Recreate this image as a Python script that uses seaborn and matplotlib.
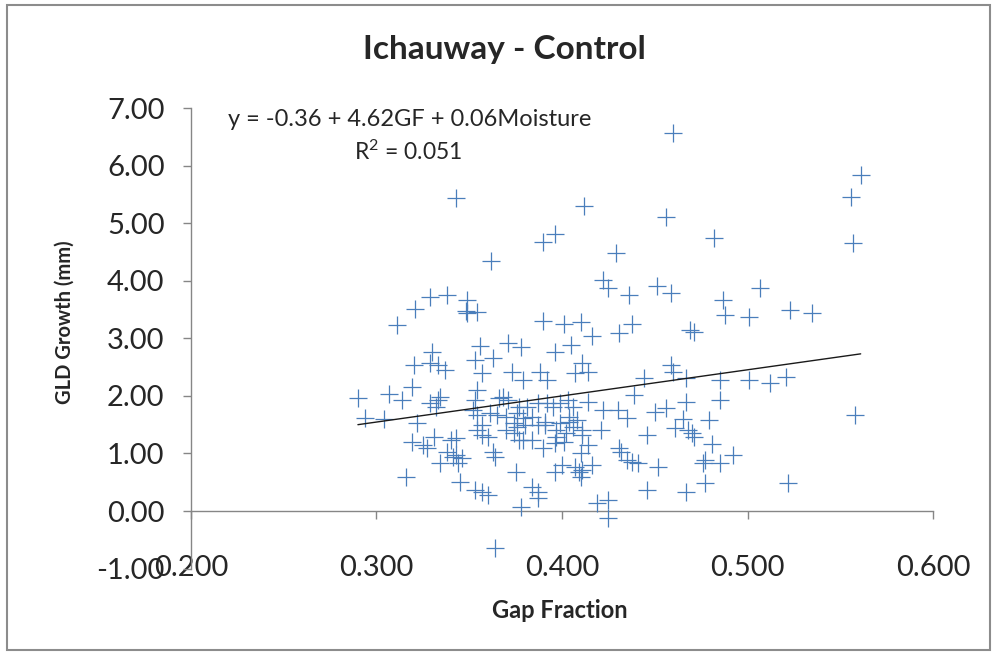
import matplotlib
matplotlib.use("Agg")
import matplotlib.pyplot as plt
from matplotlib.patches import Rectangle
from matplotlib.ticker import FormatStrFormatter
import seaborn as sns
import pandas as pd

gap_fraction = [
    0.343, 0.362, 0.329, 0.338, 0.321, 0.311, 0.349, 0.348, 0.354, 0.349,
    0.460, 0.561, 0.556, 0.557, 0.412, 0.456, 0.482, 0.390, 0.396, 0.429,
    0.422, 0.425, 0.436, 0.451, 0.459, 0.487, 0.488, 0.507, 0.501, 0.523,
    0.535, 0.390, 0.401, 0.410, 0.438, 0.469, 0.471, 0.416, 0.431,
    0.356, 0.371, 0.378, 0.330, 0.353, 0.363, 0.320, 0.329, 0.333, 0.337,
    0.357, 0.373, 0.379, 0.319, 0.290, 0.307, 0.314, 0.329, 0.333, 0.332,
    0.334, 0.354, 0.353, 0.366, 0.368, 0.371, 0.377, 0.294, 0.304, 0.322,
    0.352, 0.354, 0.361, 0.365, 0.370, 0.376, 0.379, 0.374, 0.380, 0.357,
    0.396, 0.405, 0.411, 0.414, 0.407, 0.388, 0.392, 0.459, 0.460, 0.444,
    0.467, 0.439, 0.414, 0.422, 0.430, 0.435, 0.450, 0.456, 0.465, 0.467,
    0.381, 0.387, 0.392, 0.395, 0.399, 0.403, 0.406, 0.404, 0.408, 0.384,
    0.391, 0.399, 0.485, 0.501, 0.512, 0.521, 0.485, 0.479, 0.558,
    0.331, 0.319, 0.325, 0.327, 0.340, 0.343, 0.338, 0.341, 0.343, 0.346,
    0.334, 0.344, 0.316, 0.345, 0.353, 0.357, 0.360, 0.354, 0.357, 0.360,
    0.363, 0.364, 0.375, 0.370, 0.374, 0.377, 0.376, 0.378, 0.364,
    0.387, 0.391, 0.404, 0.406, 0.411, 0.421, 0.461, 0.470, 0.379, 0.384,
    0.397, 0.401, 0.411, 0.414, 0.390, 0.410, 0.446, 0.431, 0.432, 0.435,
    0.438, 0.441, 0.452, 0.400, 0.396, 0.407, 0.409, 0.411, 0.416, 0.410,
    0.384, 0.387, 0.387, 0.419, 0.425, 0.425, 0.446, 0.467,
    0.471, 0.481, 0.477, 0.476, 0.485, 0.492, 0.477, 0.522,
    0.397, 0.402, 0.396, 0.468,
]

gld_growth = [
    5.44, 4.35, 3.72, 3.76, 3.51, 3.23, 3.67, 3.48, 3.46, 3.44,
    6.57, 5.83, 5.46, 4.66, 5.30, 5.11, 4.75, 4.68, 4.82, 4.49,
    4.02, 3.88, 3.76, 3.90, 3.79, 3.67, 3.41, 3.88, 3.37, 3.50,
    3.44, 3.30, 3.24, 3.29, 3.25, 3.14, 3.11, 3.04, 3.10,
    2.87, 2.92, 2.85, 2.77, 2.63, 2.66, 2.54, 2.57, 2.54, 2.45,
    2.40, 2.42, 2.28, 2.16, 1.97, 2.03, 1.93, 1.88, 1.93, 1.81,
    1.98, 2.10, 1.93, 1.97, 1.98, 1.93, 1.81, 1.62, 1.60, 1.53,
    1.76, 1.67, 1.70, 1.67, 1.63, 1.70, 1.62, 1.53, 1.50, 1.50,
    2.77, 2.89, 2.57, 2.42, 2.40, 2.42, 2.28, 2.54, 2.42, 2.31,
    2.31, 2.02, 1.90, 1.76, 1.76, 1.62, 1.72, 1.79, 1.60, 1.90,
    1.81, 1.88, 1.88, 1.81, 1.88, 1.93, 1.81, 1.63, 1.58, 1.63,
    1.50, 1.53, 2.28, 2.28, 2.22, 2.33, 1.93, 1.58, 1.67,
    1.29, 1.20, 1.15, 1.10, 1.23, 1.27, 1.03, 0.94, 0.97, 0.92,
    0.83, 0.83, 0.59, 0.50, 0.37, 0.33, 0.28, 1.41, 1.32, 1.29,
    1.03, 0.94, 0.68, 1.41, 1.36, 1.23, 1.46, 0.07, -0.64,
    1.50, 1.55, 1.55, 1.46, 1.41, 1.41, 1.44, 1.36, 1.23, 1.23,
    1.29, 1.20, 1.32, 1.15, 1.10, 1.01, 1.32, 1.10, 1.03, 0.89,
    0.85, 0.83, 0.77, 0.80, 0.68, 0.77, 0.68, 0.71, 0.80, 0.59,
    0.42, 0.33, 0.23, 0.14, 0.19, -0.12, 0.37, 0.33,
    1.29, 1.17, 0.89, 0.83, 0.83, 0.97, 0.49, 0.49,
    1.41, 1.36, 1.18, 1.41,
]

trend_x = [0.290, 0.561]
trend_y = [1.50, 2.73]

x_ticks = [0.2, 0.3, 0.4, 0.5, 0.6]
y_ticks = [-1, 0, 1, 2, 3, 4, 5, 6, 7]

title = "Ichauway - Control"
x_label = "Gap Fraction"
y_label = "GLD Growth (mm)"
equation = "y = -0.36 + 4.62GF + 0.06Moisture"
r2_text = "R$^{2}$ = 0.051"

sns.set_theme(style="white")
plt.rcParams["font.family"] = ["Lato", "DejaVu Sans"]
plt.rcParams["mathtext.default"] = "regular"

df = pd.DataFrame({"gf": gap_fraction, "gld": gld_growth})

fig = plt.figure(figsize=(9.93, 6.55), dpi=100)
ax = fig.add_axes([0.1923, 0.1319, 0.7473, 0.7032])

sns.scatterplot(data=df, x="gf", y="gld", marker="+", s=160, color="#4a7ebb",
                linewidth=0.9, ax=ax, zorder=3)
sns.lineplot(x=trend_x, y=trend_y, color="#1a1a1a", linewidth=1.0, ax=ax, zorder=4)

ax.set_xlim(0.2, 0.6)
ax.set_ylim(-1, 7)
ax.set_xticks(x_ticks)
ax.set_yticks(y_ticks)
ax.xaxis.set_major_formatter(FormatStrFormatter("%.3f"))
ax.yaxis.set_major_formatter(FormatStrFormatter("%.2f"))

for s in ["top", "right"]:
    ax.spines[s].set_visible(False)
ax.spines["bottom"].set_position(("data", 0))
ax.spines["bottom"].set_color("#868686")
ax.spines["left"].set_color("#868686")
ax.spines["bottom"].set_linewidth(1.0)
ax.spines["left"].set_linewidth(1.0)

ax.tick_params(axis="x", direction="out", length=6, width=1, color="#868686",
               labelsize=21, pad=26, bottom=True)
ax.tick_params(axis="y", direction="out", length=6, width=1, color="#868686",
               labelsize=21, pad=13, left=True)

ax.set_xlabel(x_label, fontsize=17, fontweight="bold")
ax.set_ylabel(y_label, fontsize=14.5, fontweight="bold")
ax.xaxis.set_label_coords(0.497, -0.066)
ax.yaxis.set_label_coords(-0.157, 0.535)

fig.text(0.508, 0.925, title, fontsize=24, fontweight="bold", ha="center", va="center")

ax.text(0.22, 6.80, equation, fontsize=17, ha="left", va="center")
ax.text(0.317, 6.24, r2_text, fontsize=16.5, ha="center", va="center")

fig.patches.append(Rectangle((0.007, 0.008), 0.990, 0.985, transform=fig.transFigure,
                             fill=False, edgecolor="#8c8c8c", linewidth=1.5))

fig.savefig("out.png", dpi=100)
